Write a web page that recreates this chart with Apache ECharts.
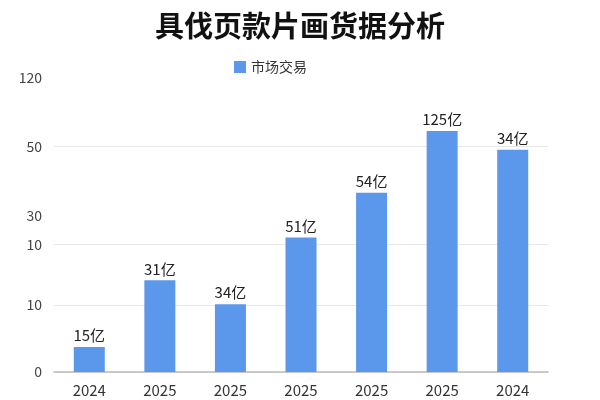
<!DOCTYPE html>
<html>
<head>
<meta charset="utf-8">
<script src="https://cdn.jsdelivr.net/npm/echarts@6/dist/echarts.min.js"></script>
<style>
html, body { margin: 0; padding: 0; background: #fff; }
#main { width: 600px; height: 400px; }
</style>
</head>
<body>
<div id="main"></div>
<script>
// 数据
var years = ['2024', '2025', '2025', '2025', '2025', '2025', '2024'];
var heights = [10.2, 37.4, 27.7, 54.9, 73.2, 98.4, 90.7];
var barTexts = ['15亿', '31亿', '34亿', '51亿', '54亿', '125亿', '34亿'];
var tickPos = [0, 27.3, 52.1, 64, 92, 120];
var tickText = ['0', '10', '10', '30', '50', '120'];
var gridPos = [0, 27.3, 52.1, 92];

var myChart = echarts.init(document.getElementById('main'));

var font = '"Noto Sans CJK SC", "Noto Sans", sans-serif';

option = {
    backgroundColor: '#fff',
    title: {
        text: '具伐页款片画货据分析',
        left: 'center',
        top: 6,
        textStyle: {
            fontSize: 29,
            fontWeight: 'bold',
            color: '#111',
            fontFamily: font
        }
    },
    legend: {
        left: 229,
        top: 55,
        itemWidth: 12,
        itemHeight: 12,
        icon: 'rect',
        textStyle: { fontSize: 14, color: '#333', fontFamily: font },
        data: ['市场交易']
    },
    grid: {
        left: 54,
        right: 52,
        top: 78,
        bottom: 28
    },
    xAxis: {
        type: 'category',
        data: years,
        axisLine: { show: true, lineStyle: { color: '#bbb', width: 1.5 } },
        axisTick: { show: false },
        splitLine: { show: false },
        axisLabel: {
            fontSize: 15,
            color: '#333',
            margin: 11,
            fontFamily: font
        }
    },
    yAxis: {
        type: 'value',
        min: 0,
        max: 120,
        axisLine: { show: false },
        axisTick: { show: false, customValues: gridPos },
        splitLine: { show: true, lineStyle: { color: '#e8e8e8' } },
        axisLabel: {
            customValues: tickPos,
            formatter: function (v) {
                var i = tickPos.indexOf(v);
                return i >= 0 ? tickText[i] : '';
            },
            fontSize: 14,
            color: '#444',
            margin: 12,
            fontFamily: font
        }
    },
    series: [{
        name: '市场交易',
        type: 'bar',
        barWidth: 31,
        itemStyle: { color: '#5b97ea' },
        label: {
            show: true,
            position: 'top',
            distance: 4,
            fontSize: 15,
            color: '#222',
            fontFamily: font,
            formatter: function (p) { return barTexts[p.dataIndex]; }
        },
        data: heights
    }]
};
myChart.setOption(option);
</script>
</body>
</html>
